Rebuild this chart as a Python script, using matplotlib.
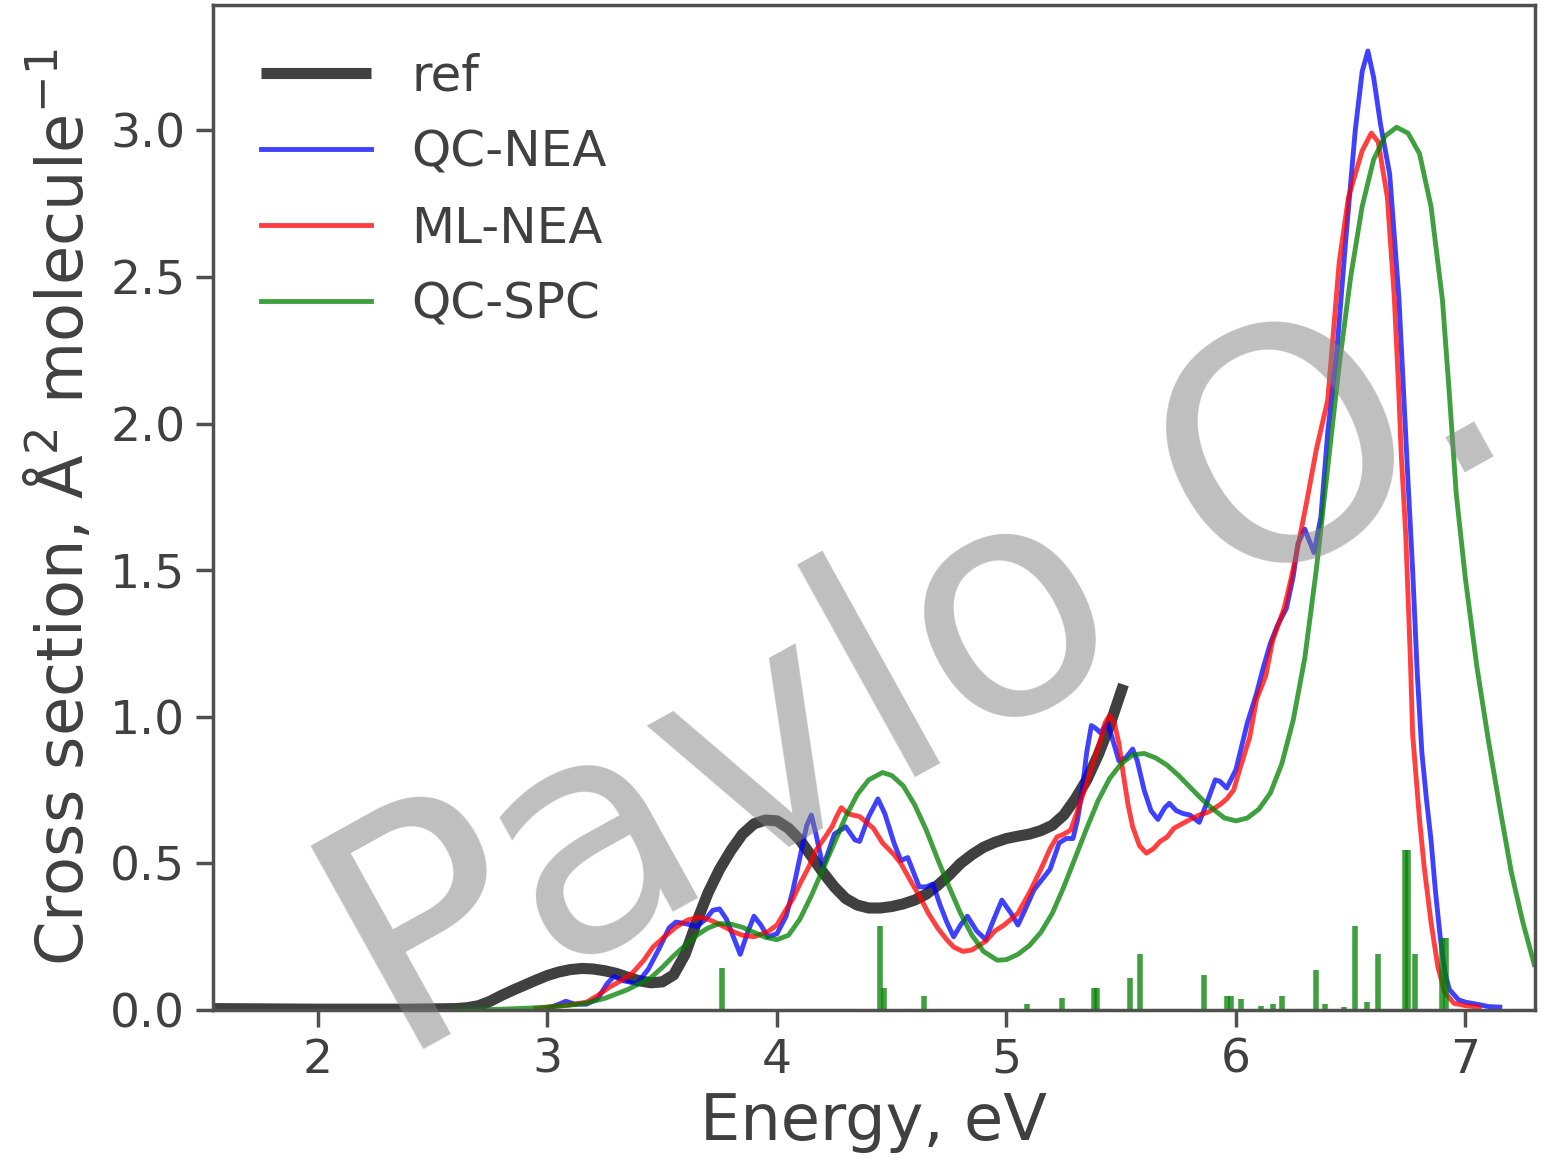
import numpy as np
import matplotlib
matplotlib.use('Agg')
import matplotlib.pyplot as plt

# ---- data (energy in eV, cross section) ----
ref_e = [1.55, 2.0, 2.4, 2.6, 2.65, 2.7, 2.75, 2.8, 2.85, 2.9, 2.95, 3.0, 3.05, 3.1,
         3.15, 3.2, 3.25, 3.3, 3.35, 3.4, 3.45, 3.5, 3.55, 3.6, 3.65, 3.7, 3.75, 3.8,
         3.85, 3.9, 3.95, 4.0, 4.05, 4.1, 4.15, 4.2, 4.25, 4.3, 4.35, 4.4, 4.45, 4.5,
         4.55, 4.6, 4.65, 4.7, 4.75, 4.8, 4.85, 4.9, 4.95, 5.0, 5.05, 5.1, 5.15, 5.2,
         5.25, 5.3, 5.35, 5.4, 5.45, 5.51]
ref_v = [0.005, 0.003, 0.003, 0.005, 0.008, 0.015, 0.03, 0.05, 0.068, 0.085, 0.102,
         0.118, 0.13, 0.138, 0.142, 0.14, 0.134, 0.125, 0.112, 0.1, 0.093, 0.096, 0.12,
         0.19, 0.3, 0.4, 0.48, 0.545, 0.6, 0.635, 0.648, 0.645, 0.62, 0.58, 0.525,
         0.47, 0.42, 0.38, 0.358, 0.348, 0.348, 0.353, 0.362, 0.375, 0.395, 0.425,
         0.46, 0.5, 0.53, 0.555, 0.572, 0.585, 0.593, 0.6, 0.612, 0.63, 0.665, 0.72,
         0.785, 0.87, 0.97, 1.11]

qcnea_e = [3.0, 3.05, 3.08, 3.12, 3.17, 3.22, 3.26, 3.29, 3.33, 3.39, 3.44, 3.49, 3.53,
           3.56, 3.6, 3.65, 3.69, 3.72, 3.75, 3.78, 3.81, 3.84, 3.87, 3.9, 3.93, 3.96,
           4.0, 4.04, 4.07, 4.1, 4.13, 4.15, 4.17, 4.2, 4.22, 4.25, 4.3, 4.34, 4.36,
           4.4, 4.44, 4.47, 4.51, 4.54, 4.57, 4.6, 4.62, 4.65, 4.68, 4.71, 4.74, 4.77,
           4.8, 4.83, 4.87, 4.91, 4.94, 4.98, 5.02, 5.05, 5.08, 5.12, 5.16, 5.19, 5.23,
           5.26, 5.29, 5.31, 5.33, 5.35, 5.37, 5.39, 5.41, 5.44, 5.46, 5.49, 5.52, 5.55,
           5.57, 5.6, 5.63, 5.66, 5.69, 5.71, 5.74, 5.77, 5.8, 5.84, 5.87, 5.91, 5.93,
           5.96, 6.0, 6.05, 6.09, 6.12, 6.15, 6.18, 6.22, 6.25, 6.27, 6.3, 6.32, 6.34,
           6.37, 6.4, 6.44, 6.48, 6.52, 6.55, 6.575, 6.6, 6.63, 6.67, 6.71, 6.75, 6.77,
           6.79, 6.81, 6.83, 6.85, 6.87, 6.89, 6.91, 6.93, 6.97, 7.0, 7.05, 7.1, 7.15]
qcnea_v = [0.005, 0.02, 0.03, 0.02, 0.02, 0.04, 0.09, 0.115, 0.1, 0.09, 0.14, 0.215,
           0.28, 0.3, 0.295, 0.285, 0.31, 0.34, 0.345, 0.31, 0.25, 0.19, 0.26, 0.32,
           0.29, 0.25, 0.26, 0.32, 0.41, 0.52, 0.63, 0.665, 0.6, 0.49, 0.53, 0.6, 0.625,
           0.58, 0.575, 0.66, 0.72, 0.67, 0.57, 0.51, 0.52, 0.46, 0.42, 0.42, 0.43,
           0.36, 0.3, 0.25, 0.29, 0.32, 0.27, 0.24, 0.3, 0.375, 0.33, 0.29, 0.34, 0.41,
           0.45, 0.48, 0.57, 0.585, 0.585, 0.65, 0.75, 0.88, 0.97, 0.96, 0.945, 0.98,
           0.93, 0.85, 0.86, 0.89, 0.85, 0.75, 0.68, 0.65, 0.69, 0.705, 0.68, 0.67,
           0.665, 0.64, 0.7, 0.785, 0.78, 0.757, 0.82, 0.98, 1.08, 1.17, 1.25, 1.31,
           1.37, 1.48, 1.59, 1.64, 1.6, 1.56, 1.68, 1.97, 2.25, 2.64, 3.0, 3.2, 3.27,
           3.18, 3.02, 2.85, 2.43, 1.8, 1.5, 1.15, 0.88, 0.72, 0.58, 0.4, 0.25, 0.13,
           0.07, 0.035, 0.027, 0.02, 0.012, 0.01]

mlnea_e = [2.95, 3.0, 3.1, 3.17, 3.22, 3.27, 3.32, 3.37, 3.42, 3.46, 3.51, 3.56, 3.61,
           3.66, 3.7, 3.74, 3.78, 3.81, 3.85, 3.9, 3.96, 4.0, 4.03, 4.07, 4.1, 4.14,
           4.17, 4.21, 4.24, 4.26, 4.28, 4.31, 4.33, 4.36, 4.39, 4.42, 4.46, 4.51, 4.54,
           4.59, 4.62, 4.66, 4.7, 4.74, 4.77, 4.81, 4.85, 4.88, 4.91, 4.95, 4.99, 5.02,
           5.05, 5.1, 5.15, 5.19, 5.22, 5.25, 5.28, 5.31, 5.35, 5.38, 5.41, 5.43, 5.45,
           5.47, 5.49, 5.51, 5.53, 5.55, 5.58, 5.61, 5.64, 5.67, 5.7, 5.73, 5.77, 5.8,
           5.84, 5.88, 5.93, 5.96, 5.99, 6.02, 6.06, 6.09, 6.13, 6.16, 6.21, 6.24, 6.27,
           6.31, 6.35, 6.4, 6.45, 6.49, 6.52, 6.55, 6.59, 6.62, 6.66, 6.69, 6.71, 6.72,
           6.74, 6.76, 6.77, 6.8, 6.82, 6.85, 6.88, 6.91, 6.95, 7.0, 7.06]
mlnea_v = [0.005, 0.01, 0.018, 0.027, 0.05, 0.078, 0.1, 0.126, 0.17, 0.215, 0.25,
           0.283, 0.307, 0.317, 0.31, 0.296, 0.28, 0.267, 0.255, 0.25, 0.267, 0.29,
           0.33, 0.38, 0.43, 0.49, 0.545, 0.59, 0.625, 0.66, 0.69, 0.67, 0.665, 0.66,
           0.64, 0.62, 0.57, 0.53, 0.5, 0.43, 0.39, 0.33, 0.28, 0.24, 0.215, 0.2,
           0.205, 0.22, 0.235, 0.27, 0.29, 0.31, 0.33, 0.4, 0.48, 0.55, 0.59, 0.6,
           0.614, 0.68, 0.774, 0.85, 0.92, 0.98, 1.005, 0.98, 0.91, 0.8, 0.7, 0.625,
           0.56, 0.535, 0.55, 0.575, 0.59, 0.62, 0.637, 0.65, 0.665, 0.675, 0.7, 0.72,
           0.75, 0.83, 0.93, 1.06, 1.14, 1.26, 1.37, 1.47, 1.58, 1.74, 1.91, 2.08,
           2.55, 2.77, 2.85, 2.93, 2.99, 2.96, 2.77, 2.43, 2.1, 1.9, 1.62, 1.2, 0.94,
           0.65, 0.49, 0.3, 0.147, 0.06, 0.023, 0.015, 0.01]

qcspc_e = [2.6, 2.7, 2.8, 2.9, 3.0, 3.1, 3.17, 3.25, 3.3, 3.35, 3.4, 3.45, 3.5, 3.55,
           3.6, 3.65, 3.7, 3.75, 3.8, 3.85, 3.9, 3.95, 4.0, 4.05, 4.1, 4.15, 4.2, 4.25,
           4.3, 4.35, 4.4, 4.46, 4.5, 4.55, 4.6, 4.65, 4.7, 4.75, 4.8, 4.85, 4.9, 4.96,
           5.0, 5.05, 5.1, 5.15, 5.2, 5.25, 5.3, 5.35, 5.4, 5.45, 5.5, 5.55, 5.6, 5.65,
           5.7, 5.75, 5.8, 5.85, 5.9, 5.95, 6.0, 6.05, 6.1, 6.15, 6.2, 6.25, 6.3, 6.35,
           6.4, 6.45, 6.5, 6.55, 6.6, 6.65, 6.7, 6.75, 6.8, 6.85, 6.9, 6.93, 6.96, 7.0,
           7.05, 7.1, 7.15, 7.2, 7.25, 7.3]
qcspc_v = [0.0, 0.001, 0.003, 0.006, 0.01, 0.017, 0.024, 0.04, 0.055, 0.07, 0.09,
           0.11, 0.145, 0.185, 0.22, 0.255, 0.28, 0.295, 0.293, 0.282, 0.265, 0.248,
           0.24, 0.255, 0.31, 0.39, 0.48, 0.57, 0.66, 0.735, 0.785, 0.81, 0.8, 0.765,
           0.7, 0.615, 0.515, 0.42, 0.33, 0.255, 0.2, 0.17, 0.172, 0.19, 0.22, 0.265,
           0.33, 0.42, 0.52, 0.62, 0.715, 0.79, 0.84, 0.87, 0.875, 0.86, 0.835, 0.8,
           0.76, 0.72, 0.685, 0.655, 0.645, 0.655, 0.685, 0.74, 0.84, 0.99, 1.2, 1.5,
           1.85, 2.2, 2.5, 2.74, 2.9, 2.98, 3.01, 2.99, 2.92, 2.74, 2.42, 2.1, 1.76,
           1.47, 1.17, 0.92, 0.69, 0.47, 0.3, 0.155]

stick_e = [3.76, 4.45, 4.465, 4.64, 5.09, 5.24, 5.38, 5.395, 5.54, 5.58, 5.86, 5.96,
           5.98, 6.02, 6.11, 6.16, 6.2, 6.35, 6.39, 6.47, 6.52, 6.57, 6.62, 6.735,
           6.75, 6.78, 6.9, 6.915]
stick_v = [0.145, 0.286, 0.075, 0.048, 0.02, 0.04, 0.075, 0.075, 0.11, 0.19, 0.12,
           0.048, 0.048, 0.038, 0.013, 0.02, 0.048, 0.136, 0.02, 0.01, 0.286, 0.028,
           0.19, 0.545, 0.545, 0.19, 0.245, 0.245]

xticks = [2, 3, 4, 5, 6, 7]
yticks = [0.0, 0.5, 1.0, 1.5, 2.0, 2.5, 3.0]

txt = '#404040'
edge = '#505050'
plt.rcParams['font.family'] = 'DejaVu Sans'
plt.rcParams['text.color'] = txt
plt.rcParams['axes.labelcolor'] = txt

fig = plt.figure(figsize=(15.44, 11.61), dpi=100)
ax = fig.add_axes([0.138, 0.130, 0.856, 0.8657])

ax.plot(ref_e, ref_v, color='k', alpha=0.75, lw=8, label='ref', solid_capstyle='butt')
ax.plot(qcnea_e, qcnea_v, color='b', alpha=0.75, lw=3.5, label='QC-NEA')
ax.plot(mlnea_e, mlnea_v, color='r', alpha=0.75, lw=3.5, label='ML-NEA')
ax.plot(qcspc_e, qcspc_v, color='g', alpha=0.75, lw=3.5, label='QC-SPC')
ax.vlines(stick_e, 0, stick_v, color='g', alpha=0.75, lw=4)

ax.set_xlim(1.543, 7.302)
ax.set_ylim(0, 3.427)
ax.set_xticks(xticks)
ax.set_yticks(yticks)
ax.set_yticklabels(['%.1f' % t for t in yticks])
ax.tick_params(labelsize=34, length=12, width=2.5, color=edge, labelcolor=txt, pad=8)
for s in ax.spines.values():
    s.set_color(edge)
    s.set_linewidth(2.5)

ax.set_xlabel('Energy, eV', fontsize=46, labelpad=6)
ax.set_ylabel('Cross section, Å$^2$ molecule$^{-1}$', fontsize=46, labelpad=10)

ax.legend(loc='upper left', frameon=False, fontsize=36, handlelength=2.2,
          handletextpad=0.8, labelspacing=0.56, borderaxespad=0.56)

# watermark
fig.text(0.594, 0.419, 'Pavlo O.', fontsize=230, rotation=29, color='gray',
         alpha=0.5, ha='center', va='center', rotation_mode='anchor', zorder=10)

fig.savefig('out.png', dpi=100)
